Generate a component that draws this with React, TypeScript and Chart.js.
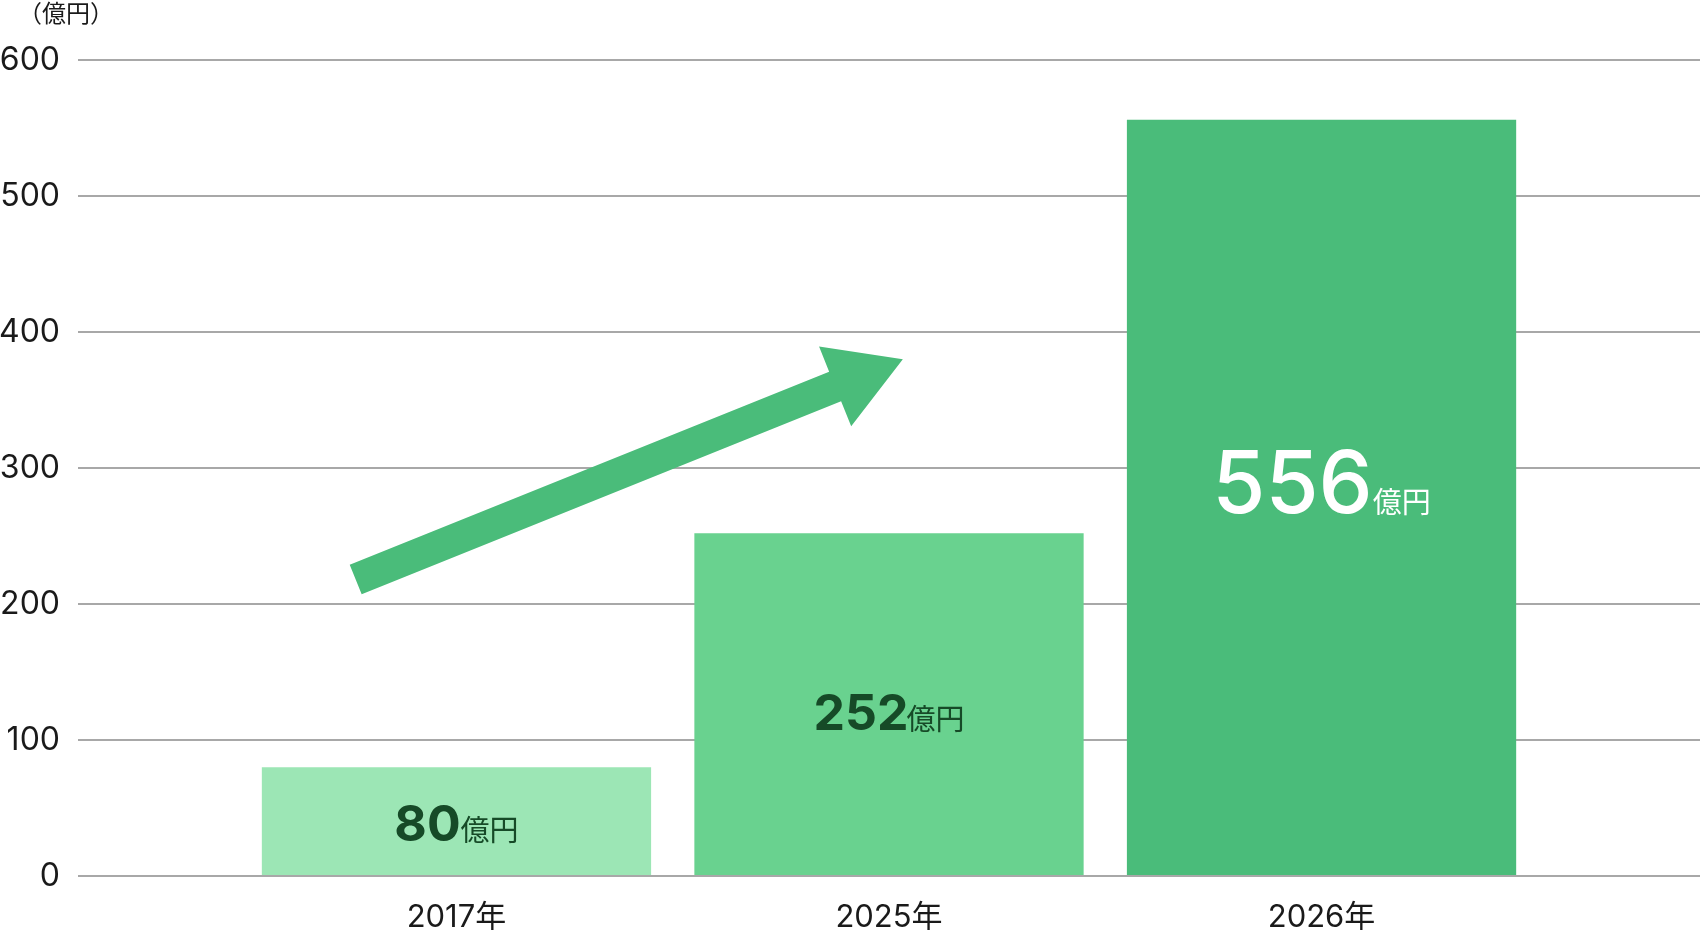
import React, { useEffect, useRef } from "react";
import { Chart, registerables } from "chart.js";

Chart.register(...registerables);

const categories = ["2017年", "2025年", "2026年"];
const values = [80, 252, 556];
const valueLabels = ["80", "252", "556"];
const unitLabel = "億円";
const axisUnitLabel = "（億円）";
const yTicks = [0, 100, 200, 300, 400, 500, 600];
const barColors = ["#9ce6b5", "#69d28f", "#4abc7a"];

// decorative growth arrow (in data coordinates)
const arrowFrom = { x: -0.233, y: 218 };
const arrowTo = { x: 1.032, y: 380 };

const FONT = 'Inter, "Noto Sans CJK JP", sans-serif';
const CJK = '"Noto Sans CJK JP", sans-serif';

const labelStyles = [
  { size: 50, weight: "bold", color: "#164a27", unitSize: 29, dy: 20, gap: 0 },
  { size: 50, weight: "bold", color: "#164a27", unitSize: 29, dy: 26, gap: -2 },
  { size: 86, weight: "500", color: "#ffffff", unitSize: 29, dy: 16, gap: 0 },
];

const labelPlugin = {
  id: "barLabels",
  afterDatasetsDraw(chart: any) {
    const ctx = chart.ctx;
    const meta = chart.getDatasetMeta(0);
    meta.data.forEach((bar: any, i: number) => {
      const st = labelStyles[i];
      const mid = (bar.y + bar.base) / 2;
      ctx.save();
      ctx.textBaseline = "alphabetic";
      ctx.textAlign = "left";
      ctx.font = `${st.weight} ${st.size}px ${FONT}`;
      const w1 = ctx.measureText(valueLabels[i]).width;
      ctx.font = `normal ${st.unitSize}px ${CJK}`;
      const w2 = ctx.measureText(unitLabel).width;
      const x0 = bar.x - (w1 + w2 + st.gap) / 2;
      const base = mid + st.dy;
      ctx.fillStyle = st.color;
      ctx.font = `${st.weight} ${st.size}px ${FONT}`;
      ctx.fillText(valueLabels[i], x0, base);
      ctx.font = `normal ${st.unitSize}px ${CJK}`;
      ctx.fillText(unitLabel, x0 + w1 + st.gap, base);
      ctx.restore();
    });
  },
};

const arrowPlugin = {
  id: "growthArrow",
  afterDatasetsDraw(chart: any) {
    const { ctx, scales } = chart;
    const x1 = scales.x.getPixelForValue(arrowFrom.x);
    const y1 = scales.y.getPixelForValue(arrowFrom.y);
    const x2 = scales.x.getPixelForValue(arrowTo.x);
    const y2 = scales.y.getPixelForValue(arrowTo.y);
    const ang = Math.atan2(y2 - y1, x2 - x1);
    const len = Math.hypot(x2 - x1, y2 - y1);
    const shaft = 16;
    const headHalf = 43;
    const headLen = 73;
    ctx.save();
    ctx.translate(x1, y1);
    ctx.rotate(ang);
    ctx.beginPath();
    ctx.moveTo(0, -shaft);
    ctx.lineTo(len - headLen, -shaft);
    ctx.lineTo(len - headLen, -headHalf);
    ctx.lineTo(len, 0);
    ctx.lineTo(len - headLen, headHalf);
    ctx.lineTo(len - headLen, shaft);
    ctx.lineTo(0, shaft);
    ctx.closePath();
    ctx.fillStyle = "#4abc7a";
    ctx.fill();
    ctx.restore();
  },
};

const unitPlugin = {
  id: "axisUnit",
  afterDraw(chart: any) {
    const ctx = chart.ctx;
    ctx.save();
    ctx.font = `normal 24px ${CJK}`;
    ctx.fillStyle = "#1a1a1a";
    ctx.textAlign = "center";
    ctx.textBaseline = "middle";
    ctx.fillText(axisUnitLabel, 66, 13);
    ctx.restore();
  },
};

export default function App() {
  const ref = useRef<HTMLCanvasElement | null>(null);
  useEffect(() => {
    if (!ref.current) return;
    const chart = new Chart(ref.current, {
      type: "bar",
      data: {
        datasets: [
          {
            data: categories.map((_, i) => ({ x: i, y: values[i] })),
            backgroundColor: barColors,
            borderWidth: 0,
            barPercentage: 0.9,
            categoryPercentage: 1,
          },
        ],
      },
      options: {
        animation: false,
        responsive: false,
        devicePixelRatio: 1,
        layout: { padding: { top: 60, right: 0, left: 0, bottom: 0 } },
        plugins: { legend: { display: false }, tooltip: { enabled: false } },
        scales: {
          x: {
            type: "linear",
            min: -0.875,
            max: 2.875,
            offset: false,
            grid: { display: false },
            border: { display: false },
            afterBuildTicks: (scale: any) => {
              scale.ticks = categories.map((_, i) => ({ value: i }));
            },
            afterFit: (scale: any) => {
              scale.height = 54;
            },
            ticks: {
              padding: 15,
              maxRotation: 0,
              autoSkip: false,
              color: "#1a1a1a",
              font: { family: FONT, size: 31 },
              callback: (v: any) => categories[v] ?? "",
            },
          },
          y: {
            min: 0,
            max: 600,
            grid: { color: "#a8a8a8", lineWidth: 2, drawTicks: false },
            border: { display: false },
            afterBuildTicks: (scale: any) => {
              scale.ticks = yTicks.map((v) => ({ value: v }));
            },
            afterFit: (scale: any) => {
              scale.width = 78;
            },
            ticks: {
              padding: 18,
              color: "#1a1a1a",
              font: { family: FONT, size: 32 },
            },
          },
        },
      },
      plugins: [arrowPlugin, labelPlugin, unitPlugin],
    } as any);
    return () => chart.destroy();
  }, []);
  return (
    <div style={{ position: "fixed", left: 0, top: 0, width: 1700, height: 930, background: "#fff" }}>
      <canvas ref={ref} width={1700} height={930} />
    </div>
  );
}
